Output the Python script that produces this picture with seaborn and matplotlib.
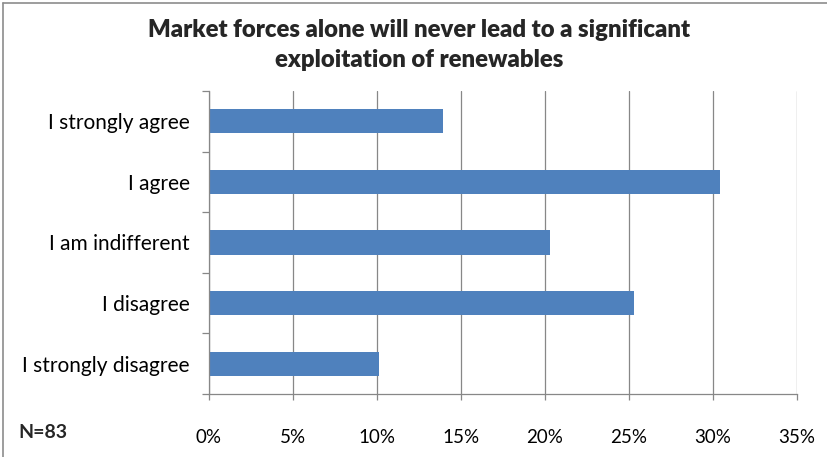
import matplotlib
matplotlib.use("Agg")
import matplotlib.pyplot as plt
from matplotlib.lines import Line2D
from matplotlib.ticker import FixedLocator, PercentFormatter
import seaborn as sns
import pandas as pd

# Survey responses (share of respondents, %)
categories = ["I strongly agree", "I agree", "I am indifferent", "I disagree", "I strongly disagree"]
shares = [13.9, 30.4, 20.3, 25.3, 10.1]
x_ticks = [0, 5, 10, 15, 20, 25, 30, 35]
title = "Market forces alone will never lead to a significant\nexploitation of renewables"
sample_note = "N=83"

df = pd.DataFrame({"response": categories, "share": shares})

sns.set_theme(style="white")
plt.rcParams["font.family"] = ["Lato", "DejaVu Sans"]

fig = plt.figure(figsize=(8.28, 4.57), dpi=100)
ax = fig.add_axes([209 / 828, 1 - 394 / 457, 588 / 828, 303 / 457])

sns.barplot(data=df, x="share", y="response", orient="h", color="#4F81BD",
            saturation=1, width=0.4, ax=ax, edgecolor="none")

grid_c = "#878787"
ax.set_xlim(0, 35)
ax.set_ylim(4.5, -0.5)
ax.xaxis.set_major_locator(FixedLocator(x_ticks))
ax.xaxis.set_major_formatter(PercentFormatter(decimals=0))
ax.grid(axis="x", color=grid_c, linewidth=0.9)
ax.set_axisbelow(True)
ax.set_xlabel("")
ax.set_ylabel("")

for side in ["top", "right"]:
    ax.spines[side].set_visible(False)
for side in ["left", "bottom"]:
    ax.spines[side].set_color(grid_c)
    ax.spines[side].set_linewidth(0.9)

ax.tick_params(axis="x", direction="out", length=4, width=0.9, color=grid_c,
               pad=21, labelsize=13.5, labelcolor="#000000", bottom=True)
ax.tick_params(axis="y", which="major", length=0, pad=14, labelsize=15,
               labelcolor="#000000")
ax.yaxis.set_minor_locator(FixedLocator([i - 0.5 for i in range(len(categories) + 1)]))
ax.tick_params(axis="y", which="minor", direction="out", length=5, width=0.9,
               color=grid_c, left=True)

fig.text(419 / 828, 1 - 45 / 457, title, ha="center", va="center",
         fontsize=17.2, fontweight="heavy", linespacing=1.42)
fig.text(18 / 828, 1 - 432 / 457, sample_note, ha="left", va="center",
         fontsize=14, fontweight="bold")

# Chart area frame
frame_c = "#8C8C8C"
fig.add_artist(Line2D([3 / 828, 1.0], [1 - 3 / 457, 1 - 3 / 457],
                      transform=fig.transFigure, color=frame_c, linewidth=1.2))
fig.add_artist(Line2D([3 / 828, 3 / 828], [0.0, 1 - 3 / 457],
                      transform=fig.transFigure, color=frame_c, linewidth=1.2))

fig.savefig("out.png", dpi=100)
